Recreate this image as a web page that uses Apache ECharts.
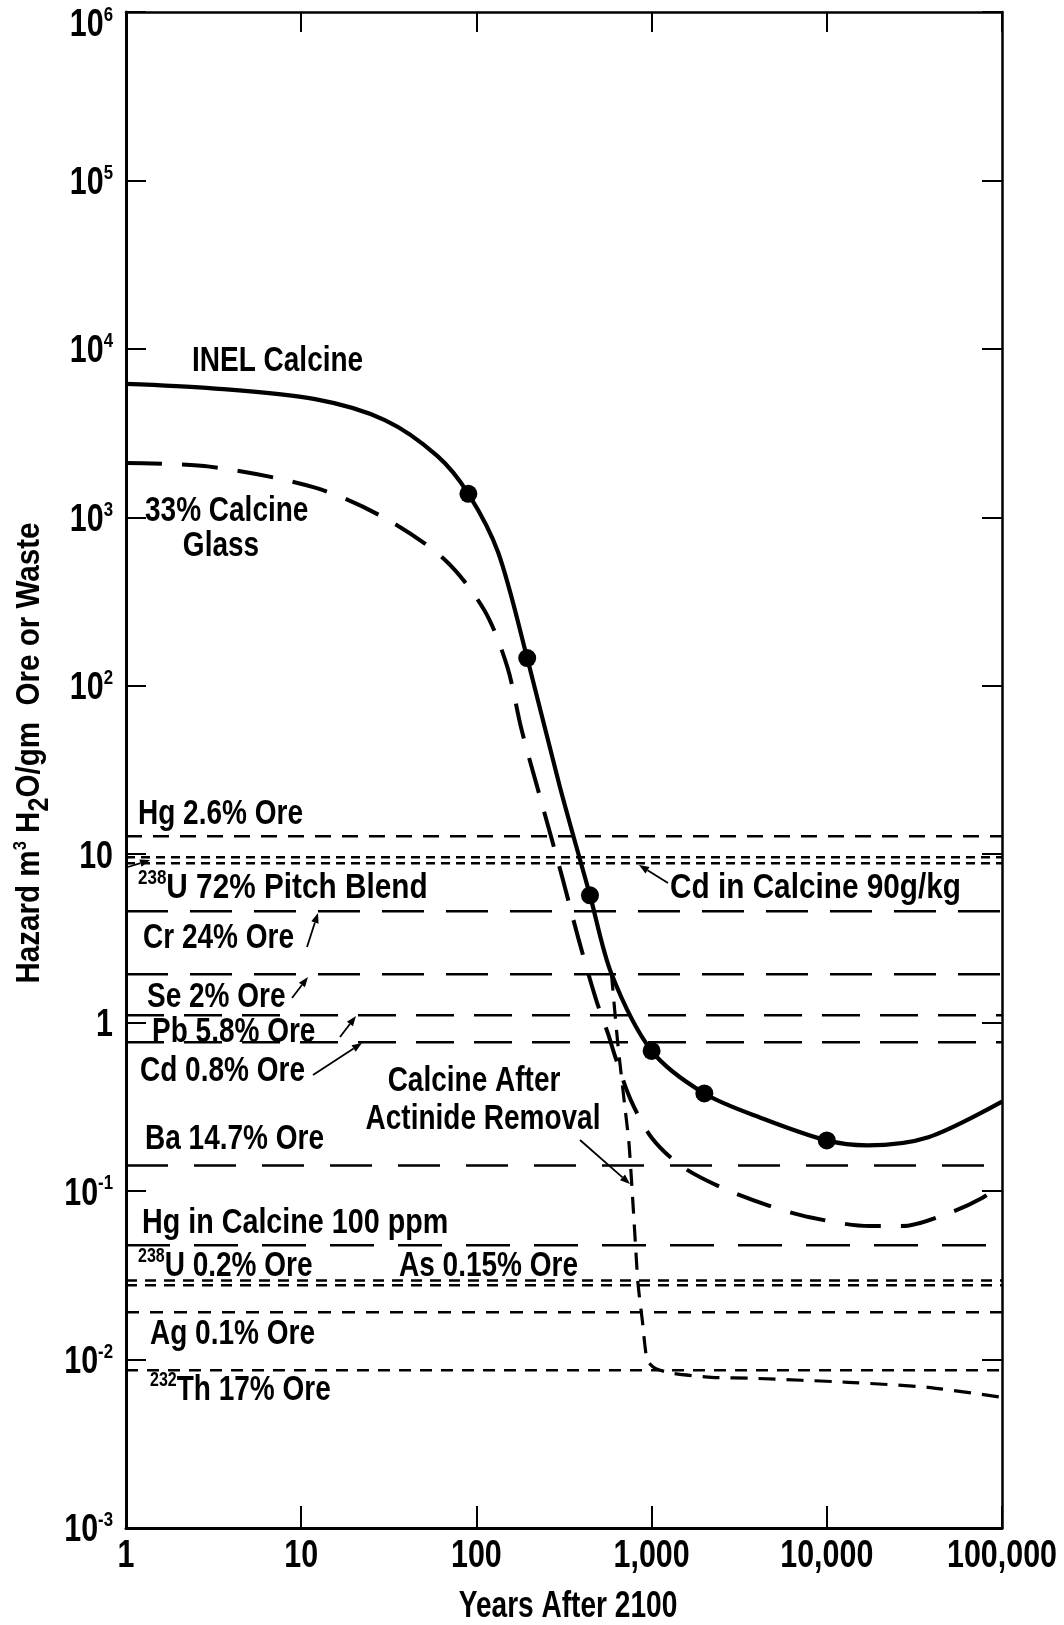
<!DOCTYPE html>
<html>
<head>
<meta charset="utf-8">
<script src="https://cdn.jsdelivr.net/npm/echarts@6/dist/echarts.min.js"></script>
<style>
  html, body { margin: 0; padding: 0; background: #fff; }
  #chart { width: 1064px; height: 1625px; }
</style>
</head>
<body>
<div id="chart"></div>
<script>
// ---- data: hazard index (m3 H2O per gram) versus years after 2100 ----
const inelCalcine = [
  [1, 6200], [3, 5850], [12, 5030], [30, 3780], [60, 2310], [90, 1380],
  [133, 620], [195, 146], [300, 25], [445, 5.7], [590, 1.95], [1000, 0.68],
  [2000, 0.38], [4300, 0.27], [10000, 0.2], [17000, 0.187], [38000, 0.209],
  [100000, 0.34]
];
const inelCalcinePoints = [[90, 1380], [195, 146], [445, 5.7], [1000, 0.68], [2000, 0.38], [10000, 0.2]];

const calcineGlass = [
  [1, 2100], [3, 2000], [12, 1500], [30, 990], [66, 560], [111, 281], [150, 130],
  [181, 55], [238, 19.5], [309, 7.3], [384, 3.1], [483, 1.36], [564, 0.86],
  [624, 0.615], [762, 0.346], [1006, 0.206], [1490, 0.14], [2610, 0.103],
  [4660, 0.082], [7980, 0.07], [17500, 0.062], [26700, 0.062], [49500, 0.074],
  [77000, 0.091], [100000, 0.111]
];

const actinideRemoved = [
  [590, 1.95], [641, 0.755], [700, 0.332], [743, 0.192], [789, 0.0738],
  [836, 0.0284], [888, 0.0166], [944, 0.0099], [1050, 0.00887], [1313, 0.00828],
  [2210, 0.00784], [3890, 0.00773], [13200, 0.00733], [37800, 0.00684],
  [100000, 0.00597]
];

// reference ores / calcine constituents (constant hazard levels)
const refNames = [
  'Hg 2.6% Ore', 'Cd in Calcine 90g/kg', '238U 72% Pitch Blend', 'Cr 24% Ore',
  'Se 2% Ore', 'Pb 5.8% Ore', 'Cd 0.8% Ore', 'Ba 14.7% Ore',
  'Hg in Calcine 100 ppm', '238U 0.2% Ore', 'As 0.15% Ore', 'Ag 0.1% Ore',
  '232Th 17% Ore'
];
const refValues = [12.8, 9.6, 8.85, 4.58, 1.94, 1.107, 0.765, 0.142, 0.0477, 0.0295, 0.0276, 0.0191, 0.00863];

// axis ranges and tick labels
const xRange = [1, 100000];
const yRange = [0.001, 1000000];
const xTickValues = [1, 10, 100, 1000, 10000, 100000];
const xTickLabels = ['1', '10', '100', '1,000', '10,000', '100,000'];
const yTickValues = [1e6, 1e5, 1e4, 1e3, 1e2, 10, 1, 0.1, 0.01, 0.001];
const yTickBase = ['10', '10', '10', '10', '10', '10', '1', '10', '10', '10'];
const yTickExp = ['6', '5', '4', '3', '2', '', '', '-1', '-2', '-3'];

// ---- styling ----
const FONT = '"Liberation Sans", Arial, sans-serif';
const INK = '#000';
const SQUEEZE = 0.8;       // horizontal squeeze giving the condensed lettering

const refDash = {
  'Hg 2.6% Ore': [16, 11],
  'Cd in Calcine 90g/kg': [9, 6],
  '238U 72% Pitch Blend': [9, 6],
  'Cr 24% Ore': [42, 22],
  'Se 2% Ore': [42, 22],
  'Pb 5.8% Ore': [38, 20],
  'Cd 0.8% Ore': [38, 20],
  'Ba 14.7% Ore': [42, 26],
  'Hg in Calcine 100 ppm': [44, 24],
  '238U 0.2% Ore': [11, 8],
  'As 0.15% Ore': [11, 8],
  'Ag 0.1% Ore': [13, 11],
  '232Th 17% Ore': [12, 9]
};

const refSeries = refNames.map((name, i) => ({
  name: name,
  type: 'line',
  silent: true,
  symbol: 'none',
  data: [[xRange[0], refValues[i]], [xRange[1], refValues[i]]],
  lineStyle: { color: INK, width: 2.5, type: refDash[name] },
  z: 2
}));

// ---- text helpers ----
function tok(size, extra) {
  return Object.assign({ fontFamily: FONT, fontWeight: 'bold', fontSize: size, lineHeight: Math.round(size * 1.1) }, extra || {});
}

function label(text, x, y, align, opts) {
  opts = opts || {};
  const size = opts.size || 35;
  return {
    type: 'text', x: x, y: y, z: 20,
    scaleX: opts.scale || SQUEEZE, scaleY: 1,
    rotation: opts.rotation || 0,
    style: {
      text: text, fill: INK,
      fontFamily: FONT, fontWeight: 'bold', fontSize: size,
      textAlign: align || 'left', textVerticalAlign: opts.vAlign || 'middle',
      rich: {
        n: tok(size),
        s: tok(opts.supSize || Math.round(size * 0.56), { verticalAlign: 'top' }),
        // lowered subscript: top padding pushes the glyph below the baseline
        b: tok(Math.round(size * 0.85), { lineHeight: Math.round(size * 0.9), padding: [Math.round(size * 0.55), 0, 0, 0] })
      }
    }
  };
}

function arrow(x1, y1, x2, y2) {
  const a = Math.atan2(y2 - y1, x2 - x1), L = 10, W = 3.8;
  const bx = x2 - L * Math.cos(a), by = y2 - L * Math.sin(a);
  const px = -Math.sin(a) * W, py = Math.cos(a) * W;
  return [
    { type: 'line', z: 20, shape: { x1: x1, y1: y1, x2: bx, y2: by }, style: { stroke: INK, lineWidth: 1.8 } },
    { type: 'polygon', z: 20, shape: { points: [[x2, y2], [bx + px, by + py], [bx - px, by - py]] }, style: { fill: INK } }
  ];
}

const annotations = [
  label('INEL Calcine', 192, 361),
  label('33% Calcine', 145, 511),
  label('Glass', 221, 546, 'center'),
  label('Hg 2.6% Ore', 138, 814),
  label('{s|238}{n|U 72% Pitch Blend}', 138, 888, 'left', { scale: 0.85 }),
  label('Cr 24% Ore', 143, 938),
  label('Se 2% Ore', 147, 997),
  label('Pb 5.8% Ore', 152, 1032),
  label('Cd 0.8% Ore', 140, 1071),
  label('Ba 14.7% Ore', 145, 1139),
  label('Hg in Calcine 100 ppm', 142, 1223, 'left', { scale: 0.82 }),
  label('{s|238}{n|U 0.2% Ore}', 138, 1266),
  label('As 0.15% Ore', 399, 1266),
  label('Ag 0.1% Ore', 150, 1334),
  label('{s|232}{n|Th 17% Ore}', 150, 1390),
  label('Cd in Calcine 90g/kg', 670, 888, 'left', { scale: 0.85 }),
  label('Calcine After', 474, 1081, 'center'),
  label('Actinide Removal', 483, 1119, 'center'),
  label('{n|Hazard m}{s|3}{n| H}{b|2}{n|O/gm  Ore or Waste}', 30, 753, 'center',
        { size: 34, scale: 0.87, rotation: Math.PI / 2 }),
  label('Years After 2100', 568, 1607, 'center', { size: 36, scale: 0.78 })
].concat(
  arrow(307, 947, 318, 913),
  arrow(292, 998, 308, 977),
  arrow(340, 1037, 356, 1016),
  arrow(313, 1075, 362, 1043),
  arrow(128, 867, 150, 860),
  arrow(668, 883, 639, 865),
  arrow(580, 1140, 630, 1184)
);

// ---- axes ----
const frameAxis = (extra) => Object.assign({
  type: 'log', logBase: 10,
  axisLine: { show: true, lineStyle: { color: INK, width: 2.5 } },
  axisTick: { show: true, inside: true, length: 20, lineStyle: { color: INK, width: 2 } },
  minorTick: { show: false },
  axisLabel: { show: false },
  splitLine: { show: false }
}, extra);

const chart = echarts.init(document.getElementById('chart'), null, { renderer: 'canvas' });

chart.setOption({
  animation: false,
  backgroundColor: '#fff',
  grid: { left: 126, right: 62, top: 12, bottom: 97 },
  xAxis: [
    frameAxis({
      min: xRange[0], max: xRange[1], splitNumber: 5, position: 'bottom',
      axisLine: { show: true, lineStyle: { color: INK, width: 3 } },
      axisTick: { show: true, inside: true, length: 22, lineStyle: { color: INK, width: 2 } }
    }),
    frameAxis({ min: xRange[0], max: xRange[1], splitNumber: 5, position: 'top' })
  ],
  yAxis: [
    frameAxis({
      min: yRange[0], max: yRange[1], splitNumber: 9, position: 'left',
      axisLine: { show: true, lineStyle: { color: INK, width: 3 } }
    }),
    frameAxis({ min: yRange[0], max: yRange[1], splitNumber: 9, position: 'right' })
  ],
  series: refSeries.concat([
    {
      name: 'INEL Calcine', type: 'line', symbol: 'none', silent: true,
      smooth: 0.3,
      data: inelCalcine,
      lineStyle: { color: INK, width: 4.2 }, z: 5
    },
    {
      name: 'INEL Calcine points', type: 'scatter', silent: true,
      symbol: 'circle', symbolSize: 18,
      data: inelCalcinePoints,
      itemStyle: { color: INK, opacity: 1 }, z: 6
    },
    {
      name: '33% Calcine Glass', type: 'line', symbol: 'none', silent: true,
      smooth: 0.3,
      data: calcineGlass,
      lineStyle: { color: INK, width: 4, type: [36, 20] }, z: 4
    },
    {
      name: 'Calcine After Actinide Removal', type: 'line', symbol: 'none', silent: true,
      smooth: 0.2,
      data: actinideRemoved,
      lineStyle: { color: INK, width: 3.2, type: [17, 11] }, z: 4
    }
  ])
});

// ---- tick labels, placed through the axis scales ----
const finder = { xAxisIndex: 0, yAxisIndex: 0 };
const tickLabels = [];
xTickValues.forEach((v, i) => {
  const p = chart.convertToPixel(finder, [v, yRange[0]]);
  tickLabels.push(label(xTickLabels[i], p[0], p[1] + 29, 'center', { size: 38, scale: 0.8 }));
});
yTickValues.forEach((v, i) => {
  const p = chart.convertToPixel(finder, [xRange[0], v]);
  const txt = yTickExp[i] ? '{n|' + yTickBase[i] + '}{s|' + yTickExp[i] + '}' : '{n|' + yTickBase[i] + '}';
  tickLabels.push(label(txt, p[0] - 13, Math.max(p[1] + 3, 26), 'right', { size: 38, scale: 0.8, supSize: 21 }));
});

chart.setOption({ graphic: annotations.concat(tickLabels) });
</script>
</body>
</html>
